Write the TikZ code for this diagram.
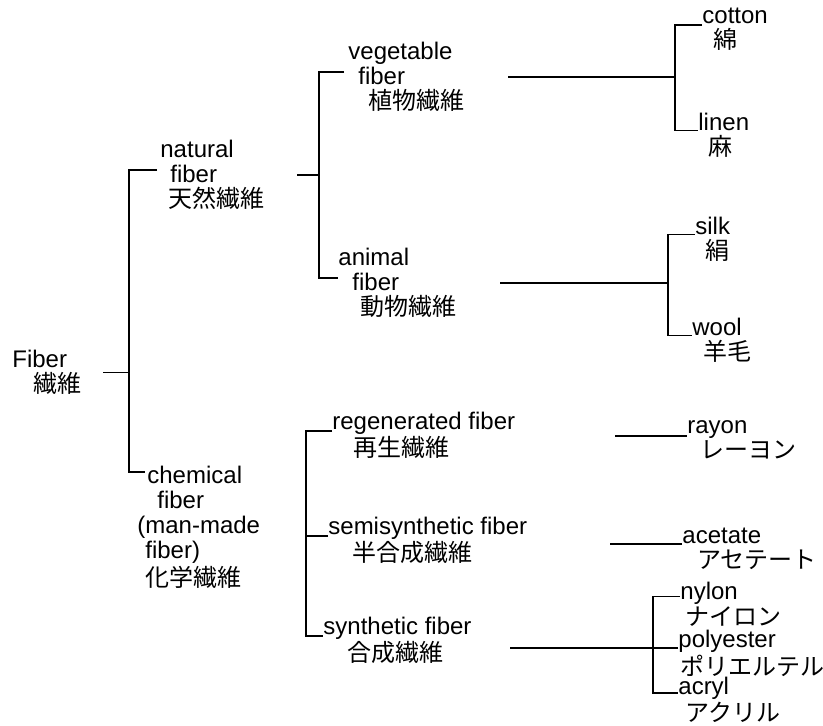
\documentclass[tikz,border=0pt]{standalone}
\usepackage{fontspec}
\setmainfont{Liberation Sans}
\newfontfamily\jpfont{Noto Sans CJK JP}
\newcommand{\jp}[1]{{\jpfont #1}}
\usepackage{tikz}
\tikzstyle{term} = [
    inner sep=0pt,
    anchor=north west,
    align=left,
    font=\fontsize{12}{12.5}\selectfont
]
\tikzstyle{tight} = [
    font=\fontsize{12}{10.5}\selectfont
]
\tikzstyle{branch} = [
    line width=0.9pt,
    draw=black
]

\begin{document}
\begin{tikzpicture}[x=0.5pt, y=-0.5pt]
        \useasboundingbox (0,0) rectangle (823,726);

        % Labels
        \node[term] (fiber) at (12,350) {Fiber\\\hspace*{10.5pt}\jp{繊維}};
        \node[term] (natural) at (160,140) {natural\\\hspace*{5pt}fiber\\\hspace*{4pt}\jp{天然繊維}};
        \node[term] (chem) at (137,466) {\hspace*{5pt}chemical\\\hspace*{10pt}fiber\\(man-made\\\hspace*{4pt}fiber)\\\hspace*{4pt}\jp{化学繊維}};
        \node[term] (veg) at (348,42) {vegetable\\\hspace*{5pt}fiber\\\hspace*{10pt}\jp{植物繊維}};
        \node[term] (animal) at (338,248) {animal\\\hspace*{7pt}fiber\\\hspace*{11pt}\jp{動物繊維}};
        \node[term] (cotton) at (702,8) {cotton\\\hspace*{5.5pt}\jp{綿}};
        \node[term] (linen) at (698,113) {linen\\\hspace*{5pt}\jp{麻}};
        \node[term] (silk) at (695,217) {silk\\\hspace*{5pt}\jp{絹}};
        \node[term] (wool) at (692,318) {wool\\\hspace*{5.5pt}\jp{羊毛}};
        \node[term] (regen) at (332,412) {regenerated fiber\\\hspace*{10.5pt}\jp{再生繊維}};
        \node[term] (semi) at (328,517) {semisynthetic fiber\\\hspace*{12pt}\jp{半合成繊維}};
        \node[term] (synth) at (323,617) {synthetic fiber\\\hspace*{12pt}\jp{合成繊維}};
        \node[term] (rayon) at (687,420) {rayon\\\hspace*{6.5pt}\jp{レーヨン}};
        \node[term] (acetate) at (682,528) {acetate\\\hspace*{7.5pt}\jp{アセテート}};
        \node[term, tight] (nylon) at (680,582) {nylon\\\hspace*{2.5pt}\jp{ナイロン}};
        \node[term, tight] (poly) at (678,630) {polyester\\\hspace*{1pt}\jp{ポリエルテル}};
        \node[term, tight] (acryl) at (678,677) {acryl\\\hspace*{3.5pt}\jp{アクリル}};

        % Junctions
        \coordinate (fib-out) at (103,369);
        \coordinate (fib-j) at (129,369);
        \coordinate (nat-out) at (297,172);
        \coordinate (nat-j) at (319,172);
        \coordinate (veg-out) at (508,76);
        \coordinate (veg-j) at (675,76);
        \coordinate (ani-out) at (500,281);
        \coordinate (ani-j) at (668,281);
        \coordinate (chem-j) at (306,530);
        \coordinate (regen-out) at (615,433);
        \coordinate (semi-out) at (610,542);
        \coordinate (synth-out) at (510,641);
        \coordinate (synth-j) at (653,641);

        % Branches
        \draw[branch] (fiber.east -| fib-out) -- (fiber.east -| fib-j);
        \draw[branch] ([shift={(-1.5pt,2.5pt)}]natural.west) -| (fib-j) |- ([shift={(4pt,-3pt)}]chem.north west);
        \draw[branch] (natural.east -| nat-out) -- (natural.east -| nat-j);
        \draw[branch] ([shift={(-2pt,2.5pt)}]veg.west) -| (nat-j) |- ([yshift=2.5pt]animal.west);
        \draw[branch] (veg.east -| veg-out) -- (veg.east -| veg-j);
        \draw[branch] ([yshift=2.5pt]cotton.west) -| (veg-j) |- ([yshift=2.5pt]linen.west);
        \draw[branch] (animal.east -| ani-out) -- (animal.east -| ani-j);
        \draw[branch] ([yshift=2.5pt]silk.west) -| (ani-j) |- ([yshift=2.5pt]wool.west);
        \draw[branch] ([yshift=2.5pt]regen.west) -| (chem-j) |- ([yshift=2.5pt]synth.west);
        \draw[branch] ([yshift=2.5pt]semi.west) -- ([yshift=2.5pt]semi.west -| chem-j);

        % Leaves
        \draw[branch] (regen.east -| regen-out) -- (regen.east -| rayon.west);
        \draw[branch] ([yshift=2.5pt]acetate.west) -- ([yshift=2.5pt]acetate.west -| semi-out);
        \draw[branch] ([yshift=2.5pt]poly.west) -- ([yshift=2.5pt]poly.west -| synth-out);
        \draw[branch] ([yshift=4pt]nylon.west) -| (synth-j) |- ([yshift=3.5pt]acryl.west);
    \end{tikzpicture}
\end{document}
